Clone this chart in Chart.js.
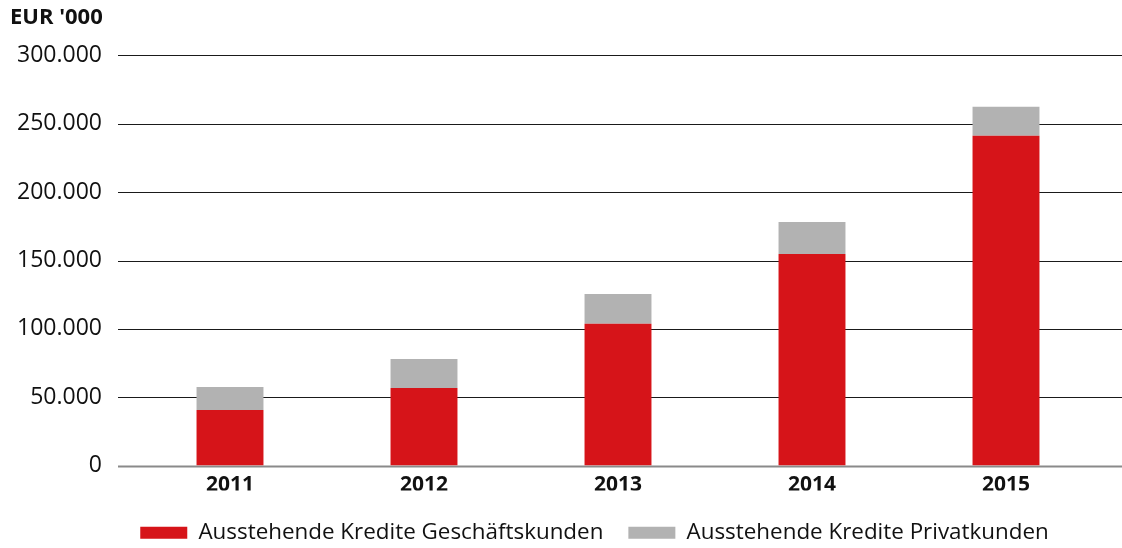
<!DOCTYPE html>
<html>
<head>
<meta charset="utf-8">
<script src="https://cdn.jsdelivr.net/npm/chart.js@4.4.1/dist/chart.umd.min.js"></script>
<style>
html,body{margin:0;padding:0;background:#fff;}
#wrap{width:1122px;height:548px;position:relative;}
</style>
</head>
<body>
<div id="wrap"><canvas id="c" width="1122" height="548"></canvas></div>
<script>
const years = ['2011', '2012', '2013', '2014', '2015'];
const businessLoans = [40600, 56700, 103800, 154800, 241200];
const privateLoans = [16900, 21300, 21700, 23400, 21200];
const yTicks = [0, 50000, 100000, 150000, 200000, 250000, 300000];
const seriesNames = ['Ausstehende Kredite Geschäftskunden', 'Ausstehende Kredite Privatkunden'];
const unitLabel = "EUR '000";

const FONT = '"Open Sans", sans-serif';

const extendedGrid = {
  id: 'extendedGrid',
  beforeDatasetsDraw(chart) {
    const {ctx, scales: {y}} = chart;
    ctx.save();
    y.ticks.forEach(t => {
      const py = Math.round(y.getPixelForValue(t.value)) + 0.5;
      ctx.beginPath();
      if (t.value === 0) { ctx.strokeStyle = '#8a8a8a'; ctx.lineWidth = 2; }
      else { ctx.strokeStyle = '#1a1a1a'; ctx.lineWidth = 1.2; }
      ctx.moveTo(118, py);
      ctx.lineTo(chart.width, py);
      ctx.stroke();
    });
    ctx.restore();
  }
};

const legendShift = {
  id: 'legendShift',
  afterLayout(chart) {
    const lg = chart.legend;
    lg.left += 38; lg.right += 38;
    lg.top += 6; lg.bottom += 6;
  }
};

new Chart(document.getElementById('c'), {
  type: 'bar',
  data: {
    labels: years,
    datasets: [
      { label: seriesNames[0], data: businessLoans, backgroundColor: '#d61419', borderWidth: 0 },
      { label: seriesNames[1], data: privateLoans, backgroundColor: '#b2b2b2', borderWidth: 0 }
    ]
  },
  options: {
    responsive: false,
    animation: false,
    devicePixelRatio: 1,
    datasets: { bar: { categoryPercentage: 1, barPercentage: 0.345 } },
    layout: { padding: { left: 10, right: 19, top: 0, bottom: 0 } },
    plugins: {
      title: {
        display: true, text: unitLabel, align: 'start', color: '#111',
        font: { family: FONT, size: 22, weight: 'bold' },
        padding: { top: 5, bottom: 24 }
      },
      legend: {
        position: 'bottom',
        labels: {
          color: '#111', font: { family: FONT, size: 22.4 },
          boxWidth: 47, boxHeight: 12, padding: 25
        }
      },
      tooltip: { enabled: false }
    },
    scales: {
      x: {
        stacked: true,
        grid: { display: false, drawTicks: false },
        border: { display: false },
        afterFit(scale) { scale.height = 25; },
        ticks: { color: '#111', font: { family: FONT, size: 21, weight: 'bold' }, padding: 7 }
      },
      y: {
        stacked: true, min: 0, max: 300000,
        afterBuildTicks(scale) { scale.ticks = yTicks.map(v => ({ value: v })); },
        afterFit(scale) { scale.width = 123; },
        grid: { display: false, drawTicks: false },
        border: { display: false },
        ticks: {
          color: '#111', font: { family: FONT, size: 23 }, padding: 31,
          callback: v => v.toLocaleString('de-DE')
        }
      }
    }
  },
  plugins: [extendedGrid, legendShift]
});
</script>
</body>
</html>
